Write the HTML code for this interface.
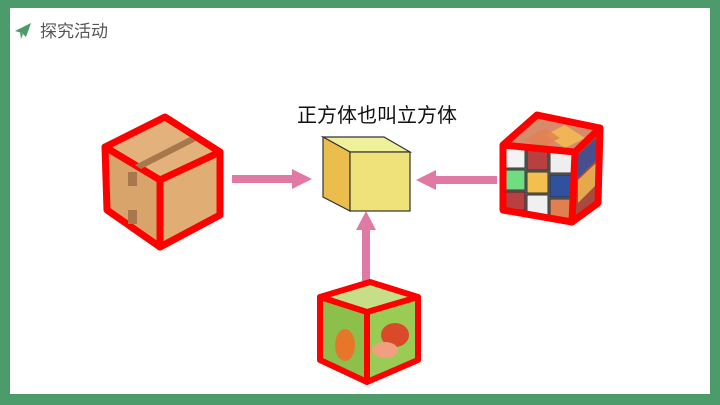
<!DOCTYPE html>
<html><head><meta charset="utf-8"><style>
html,body{margin:0;padding:0;width:720px;height:405px;overflow:hidden;background:#fff}
svg{display:block}
text{font-family:"Liberation Sans","Noto Sans CJK SC",sans-serif}
</style></head><body>
<svg width="720" height="405" viewBox="0 0 720 405" xmlns="http://www.w3.org/2000/svg">
<rect width="720" height="405" fill="#4b9b6b"/>
<rect x="10" y="8" width="700" height="386" fill="#fff"/>
<!-- header -->
<path d="M15 31 L31 23 L26 37 L22 33 Z" fill="#4b9b6b"/>
<path d="M20 32 L21 39 L23 34 Z" fill="#4b9b6b"/>
<text x="40" y="37" font-size="17" fill="#555">探究活动</text>
<!-- title -->
<text x="377" y="122" font-size="20" text-anchor="middle" fill="#111" font-family="'Noto Serif CJK SC',serif">正方体也叫立方体</text>
<!-- cardboard box -->
<g stroke="#f00" stroke-width="7" stroke-linejoin="round">
<polygon points="165,117 105,147 160,180 220,152" fill="#e3b27c"/>
<polygon points="105,147 160,180 160,247 107,210" fill="#d9a46c"/>
<polygon points="160,180 220,152 220,215 160,247" fill="#e0ad74"/>
</g>
<polygon points="135,165 190,137 196,141 141,169" fill="#a8784d"/>
<rect x="128" y="172" width="9" height="14" fill="#a8784d"/>
<rect x="128" y="210" width="9" height="14" fill="#a8784d"/>
<!-- yellow cube -->
<g stroke="#333" stroke-width="1.2">
<polygon points="323,137 384,137 410,152 350,152" fill="#eef19a"/>
<polygon points="323,137 350,152 350,211 323,197" fill="#ebbd4c"/>
<rect x="350" y="152" width="60" height="59" fill="#efe27a"/>
</g>
<!-- arrows -->
<g fill="#e07aa5">
<rect x="232" y="175" width="62" height="8"/>
<polygon points="292,169 312,179 292,189"/>
<rect x="434" y="176" width="63" height="8"/>
<polygon points="436,170 416,180 436,190"/>
<rect x="362" y="228" width="8" height="53"/>
<polygon points="356,230 366,211 376,230"/>
</g>
<!-- rubik cube -->
<polygon points="503,145 537,115 600,128 575,152" fill="#d98a6a"/>
<polygon points="575,152 600,128 598,203 572,222" fill="#a84a40"/>
<polygon points="503,145 575,152 572,222 503,210" fill="#666"/>
<g stroke="#333" stroke-width="1">
<rect x="505" y="148" width="20" height="20" fill="#f3f3f3"/>
<rect x="527" y="149" width="21" height="21" fill="#b84040"/>
<rect x="550" y="151" width="22" height="22" fill="#eeeeee"/>
<rect x="505" y="170" width="20" height="20" fill="#70dd80"/>
<rect x="527" y="172" width="21" height="21" fill="#f3c050"/>
<rect x="550" y="175" width="22" height="22" fill="#3050a0"/>
<rect x="505" y="192" width="20" height="18" fill="#b84040"/>
<rect x="527" y="195" width="21" height="20" fill="#f0f0f0"/>
<rect x="550" y="199" width="22" height="21" fill="#e08050"/>
</g>
<polygon points="578,155 596,138 596,160 578,178" fill="#3050a0" opacity=".8"/>
<polygon points="578,180 596,163 596,185 578,203" fill="#f3c050" opacity=".8"/>
<polygon points="545,135 565,125 585,138 565,148" fill="#f3c050" opacity=".8"/>
<polygon points="525,140 545,128 560,138 540,148" fill="#e08050" opacity=".8"/>
<g fill="none" stroke="#f00" stroke-width="7" stroke-linejoin="round">
<polygon points="503,145 537,115 600,128 598,203 572,222 503,210"/>
<polyline points="503,145 575,152 600,128"/>
<line x1="575" y1="152" x2="572" y2="222"/>
</g>
<!-- bottom cube -->
<polygon points="370,282 320,297 367,312 418,297" fill="#c6de88"/>
<polygon points="320,297 367,312 367,382 320,360" fill="#8cc04a"/>
<polygon points="367,312 418,297 418,360 367,382" fill="#9acb55"/>
<ellipse cx="345" cy="345" rx="10" ry="16" fill="#e8762a"/>
<ellipse cx="395" cy="335" rx="14" ry="12" fill="#d84a2a"/>
<ellipse cx="385" cy="350" rx="13" ry="8" fill="#f0a080"/>
<g fill="none" stroke="#f00" stroke-width="6" stroke-linejoin="round">
<polygon points="370,282 320,297 320,360 367,382 418,360 418,297"/>
<polyline points="320,297 367,312 418,297"/>
<line x1="367" y1="312" x2="367" y2="382"/>
</g>
</svg>
</body></html>
